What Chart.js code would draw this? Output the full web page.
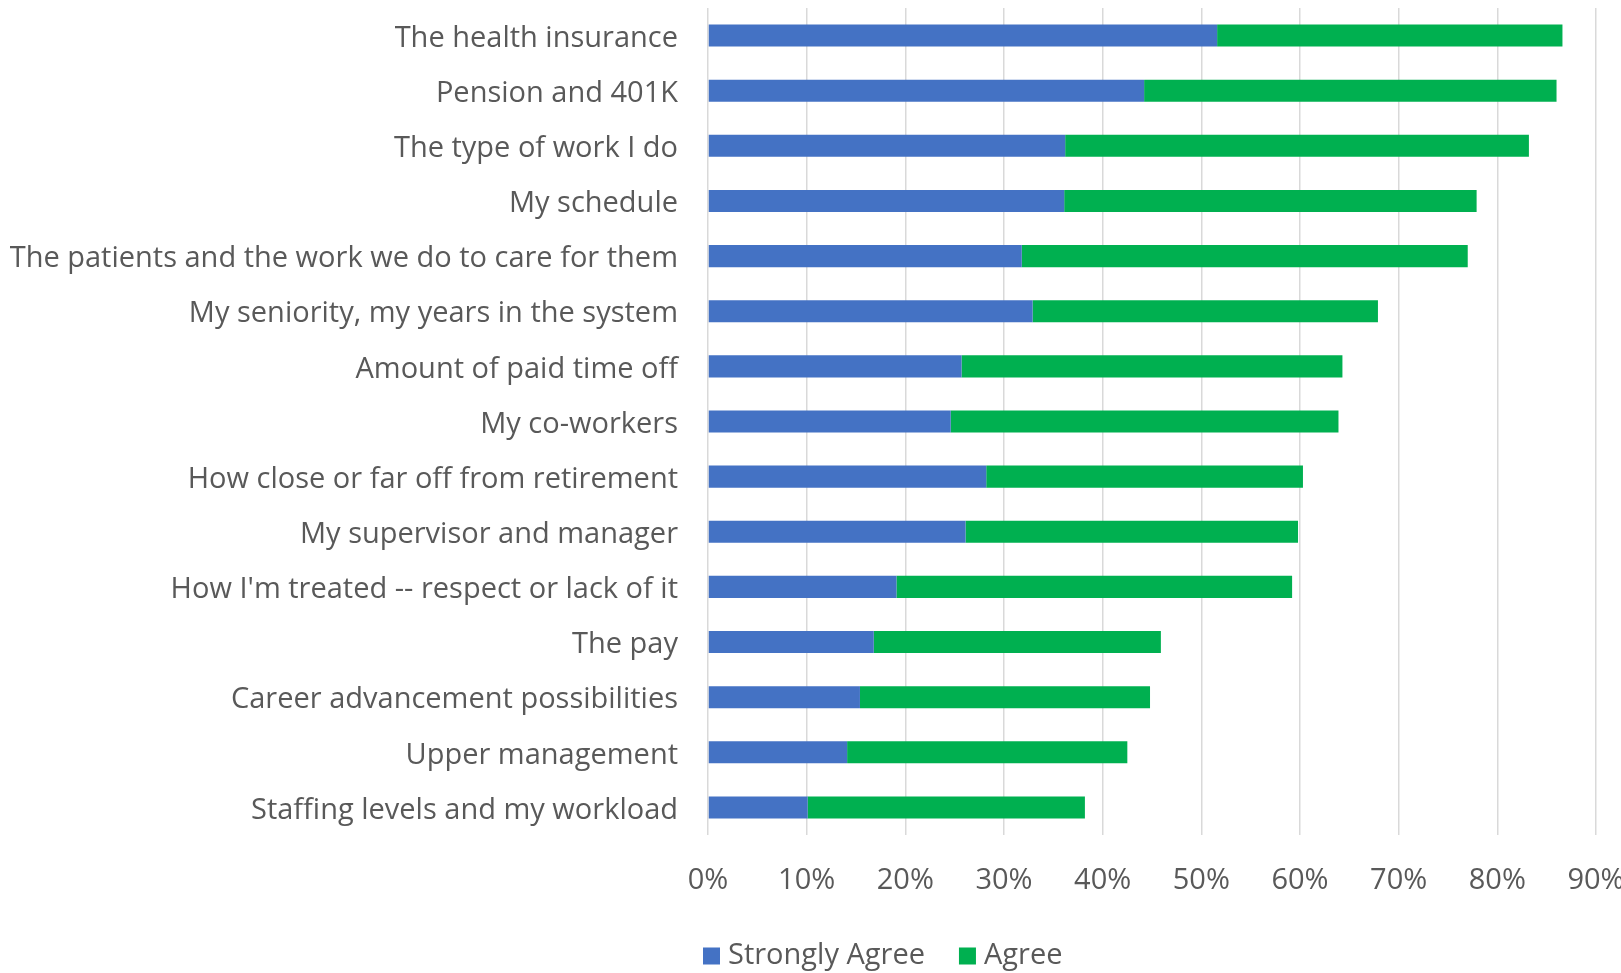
<!DOCTYPE html>
<html>
<head>
<meta charset="utf-8">
<title>Reasons to stay</title>
<script src="https://cdn.jsdelivr.net/npm/chart.js@4.4.1/dist/chart.umd.min.js"></script>
<style>
  html, body { margin: 0; padding: 0; background: #ffffff; overflow: hidden; }
  #wrap { position: relative; width: 1621px; height: 973px; }
</style>
</head>
<body>
<div id="wrap"><canvas id="chart" width="1621" height="973"></canvas></div>
<script>
// Survey items, top to bottom
const categories = [
  "The health insurance",
  "Pension and 401K",
  "The type of work I do",
  "My schedule",
  "The patients and the work we do to care for them",
  "My seniority, my years in the system",
  "Amount of paid time off",
  "My co-workers",
  "How close or far off from retirement",
  "My supervisor and manager",
  "How I'm treated -- respect or lack of it",
  "The pay",
  "Career advancement possibilities",
  "Upper management",
  "Staffing levels and my workload"
];

// Share of respondents (fraction of 1)
const stronglyAgree = [0.516, 0.442, 0.362, 0.361, 0.318, 0.329, 0.257, 0.246, 0.282, 0.261, 0.191, 0.168, 0.154, 0.141, 0.101];
const agree         = [0.350, 0.418, 0.470, 0.418, 0.452, 0.350, 0.386, 0.393, 0.321, 0.337, 0.401, 0.291, 0.294, 0.284, 0.281];

const seriesNames = ["Strongly Agree", "Agree"];
const seriesColors = ["#4472C4", "#00B050"];

// Axis ticks: 0% to 90% in steps of 10%
const xTickMin = 0;
const xTickMax = 0.9;
const xTickStep = 0.1;

const FONT = "'Open Sans', sans-serif";
const FONT_SIZE = 29;
const TEXT = "#595959";
const GRID = "#d9d9d9";

// Legend drawn under the axis labels
const bottomLegend = {
  id: "bottomLegend",
  afterDraw(chart) {
    const ctx = chart.ctx;
    const box = 17, gapText = 8, gapItem = 34;
    const cy = 956;
    const startX = 703;
    ctx.save();
    ctx.font = FONT_SIZE + "px " + FONT;
    ctx.textBaseline = "middle";
    ctx.textAlign = "left";
    let x = startX;
    chart.data.datasets.forEach(ds => {
      ctx.fillStyle = ds.backgroundColor;
      ctx.fillRect(x, cy - box / 2, box, box);
      x += box + gapText;
      ctx.fillStyle = TEXT;
      ctx.fillText(ds.label, x, cy);
      x += ctx.measureText(ds.label).width + gapItem;
    });
    ctx.restore();
  }
};

new Chart(document.getElementById("chart"), {
  type: "bar",
  data: {
    labels: categories,
    datasets: [
      { label: seriesNames[0], data: stronglyAgree, backgroundColor: seriesColors[0] },
      { label: seriesNames[1], data: agree, backgroundColor: seriesColors[1] }
    ]
  },
  options: {
    indexAxis: "y",
    responsive: false,
    animation: false,
    devicePixelRatio: 1,
    layout: { padding: { left: 0, right: 25, top: 8, bottom: 0 } },
    datasets: {
      bar: { categoryPercentage: 1.0, barPercentage: 0.4, borderWidth: 0 }
    },
    plugins: {
      legend: { display: false },
      tooltip: { enabled: false }
    },
    scales: {
      x: {
        stacked: true,
        min: xTickMin,
        max: xTickMax,
        border: { display: false },
        grid: { color: GRID, lineWidth: 1.5, drawTicks: false },
        ticks: {
          stepSize: xTickStep,
          padding: 28,
          color: TEXT,
          font: { family: FONT, size: FONT_SIZE },
          callback: v => Math.round(v * 100) + "%"
        },
        afterFit(scale) {
          scale.height = 138;
          scale.paddingLeft = 0;
          scale.paddingRight = 0;
        }
      },
      y: {
        stacked: true,
        border: { display: false },
        grid: { display: false, drawTicks: false },
        ticks: {
          autoSkip: false,
          padding: 30,
          labelOffset: 3,
          color: TEXT,
          font: { family: FONT, size: FONT_SIZE }
        },
        afterFit(scale) {
          scale.width = 708;
          scale.paddingTop = 0;
          scale.paddingBottom = 0;
        }
      }
    }
  },
  plugins: [bottomLegend]
});
</script>
</body>
</html>
